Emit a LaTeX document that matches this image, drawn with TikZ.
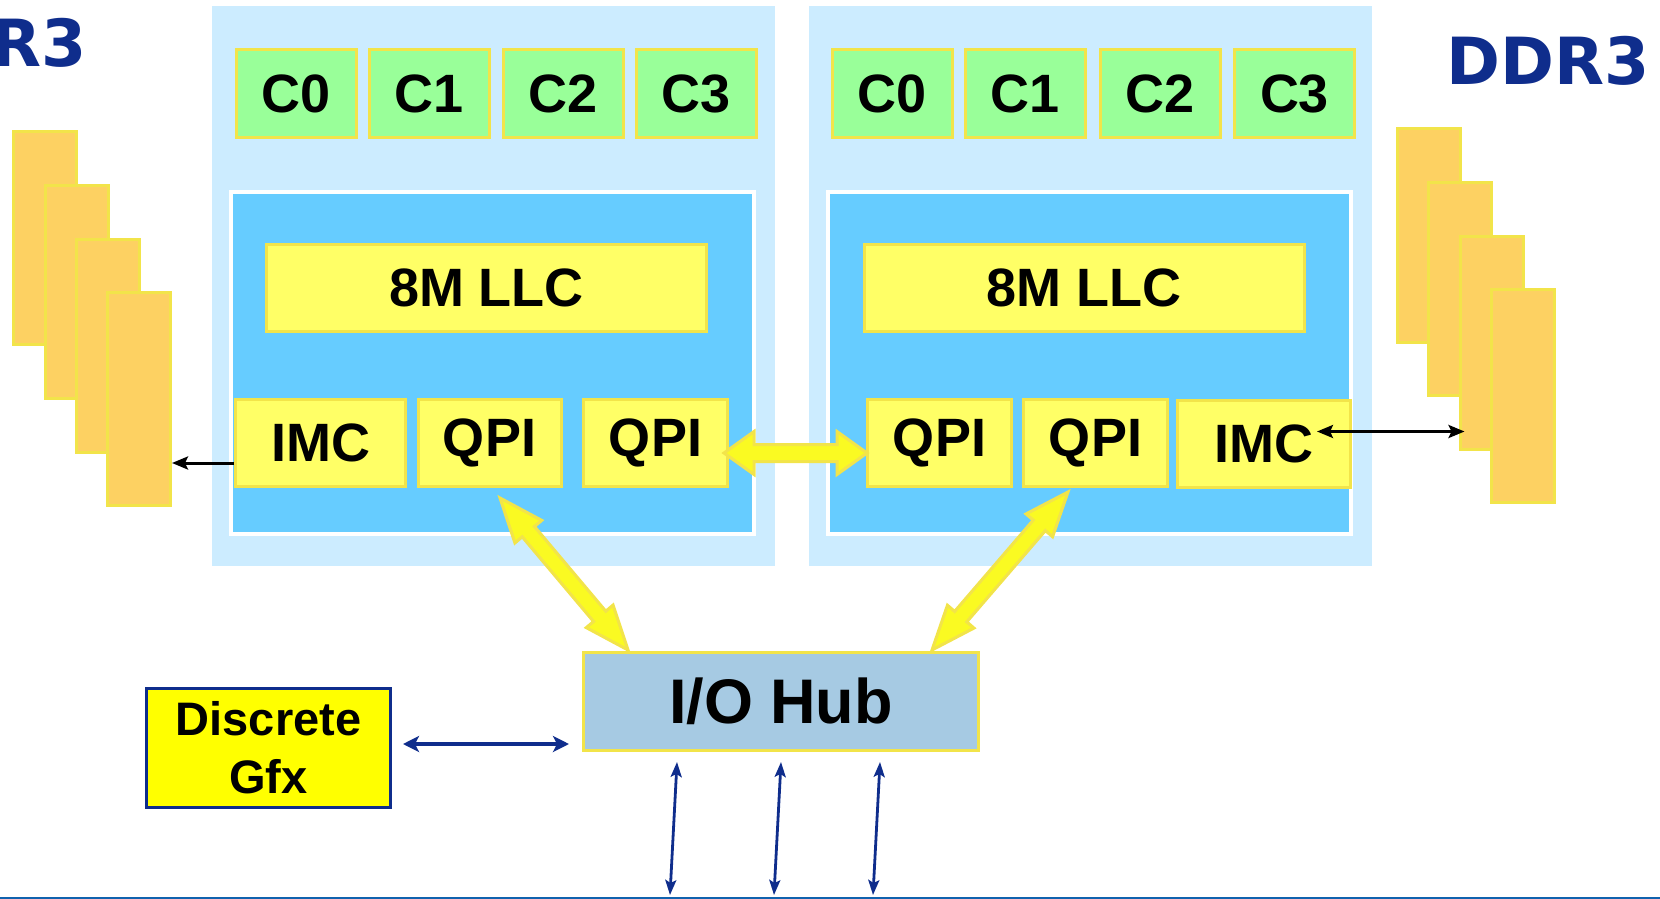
\documentclass[tikz,border=0pt]{standalone}
\usepackage{fontspec}
\setmainfont{Liberation Sans}
\newfontfamily\ddrfont{DejaVu Sans}
\usepackage{xcolor}
\usepackage{tikz}
\usetikzlibrary{calc,arrows.meta}

\definecolor{sockfill}{HTML}{CCECFF}
\definecolor{ringfill}{HTML}{66CCFF}
\definecolor{corefill}{HTML}{99FF99}
\definecolor{cachefill}{HTML}{FFFF66}
\definecolor{boxline}{HTML}{F2E44A}
\definecolor{dimmfill}{HTML}{FDD162}
\definecolor{hubfill}{HTML}{A6CAE3}
\definecolor{gfxfill}{HTML}{FFFF00}
\definecolor{navy}{HTML}{0F2D8C}
\definecolor{fatfill}{HTML}{FAFA22}
\definecolor{busblue}{HTML}{1062AE}

\tikzset{
  sockbox/.style={fill=sockfill, inner sep=0pt, minimum width=281.5pt, minimum height=280pt},
  ringbox/.style={fill=ringfill, draw=white, line width=2pt, minimum width=261.5pt, minimum height=171pt},
  corebox/.style={fill=corefill, draw=boxline, line width=1.5pt, minimum width=60pt, minimum height=44pt,
    font=\bfseries\fontsize{27}{29}\selectfont},
  cachebox/.style={fill=cachefill, draw=boxline, line width=1.5pt, minimum height=43.5pt,
    font=\bfseries\fontsize{27}{29}\selectfont},
  dimmbox/.style={fill=dimmfill, draw=boxline, line width=1.5pt, minimum width=31.5pt, minimum height=106.5pt},
  hubbox/.style={fill=hubfill, draw=boxline, line width=1.5pt, minimum width=197.5pt, minimum height=49pt,
    font=\bfseries\fontsize{31.5}{34}\selectfont},
  gfxbox/.style={fill=gfxfill, draw=navy, line width=1.5pt, inner sep=2pt, minimum width=122pt,
    minimum height=59.5pt, align=center, font=\bfseries\fontsize{23.5}{29}\selectfont},
  ddrtext/.style={text=navy, inner sep=0pt, font=\ddrfont\bfseries\fontsize{32.5}{35}\selectfont},
  fatarrow/.style={fill=fatfill, draw=boxline, line width=1.5pt},
  memarrow/.style={draw=black, line width=1.5pt},
  gfxarrow/.style={draw=navy, line width=2pt,
    {Stealth[length=8pt,width=8pt,inset=2pt]}-{Stealth[length=8pt,width=8pt,inset=2pt]}},
  busarrow/.style={draw=navy, line width=1.4pt,
    {Stealth[length=7.5pt,width=5.5pt,inset=1.5pt]}-{Stealth[length=7.5pt,width=5.5pt,inset=1.5pt]}},
  busline/.style={draw=busblue, line width=1.5pt}
}

% fat double arrow: start, end, half shaft, half head, head length
\newcommand{\fatlink}[5]{%
  \path (#1) coordinate (fa) (#2) coordinate (fb)
    ($(fa)!#5!(fb)$) coordinate (fa1)
    ($(fb)!#5!(fa)$) coordinate (fb1);
  \draw[fatarrow] (fa)
    -- ($(fa1)!#4!90:(fb)$) -- ($(fa1)!#3!90:(fb)$)
    -- ($(fb1)!#3!-90:(fa)$) -- ($(fb1)!#4!-90:(fa)$)
    -- (fb)
    -- ($(fb1)!#4!90:(fa)$) -- ($(fb1)!#3!90:(fa)$)
    -- ($(fa1)!#3!-90:(fb)$) -- ($(fa1)!#4!-90:(fb)$)
    -- cycle;}

\begin{document}
\begin{tikzpicture}[x=0.5pt,y=-0.5pt]
\useasboundingbox (0,0) rectangle (1660,899);
\clip (0,0) rectangle (1660,899);

% sockets
\node[sockbox] (sockL) at (493.5,286) {};
\node[sockbox] (sockR) at (1090.5,286) {};
\node[ringbox] (ringL) at (492.5,363) {};
\node[ringbox] (ringR) at (1089.5,363) {};

% cores
\foreach \i/\x in {0/296.5, 1/429.5, 2/563, 3/696.5}
  \node[corebox] (coreL\i) at (\x,93.5) {C\i};
\foreach \i/\x in {0/892, 1/1025, 2/1160, 3/1294.5}
  \node[corebox] (coreR\i) at (\x,93.5) {C\i};

% cache
\node[cachebox, minimum width=220pt] (llcL) at (486.5,287.5) {8M LLC};
\node[cachebox, minimum width=220pt] (llcR) at (1084,287.5) {8M LLC};

% controller and links
\node[cachebox, minimum width=85pt] (imcL) at (320.5,443) {IMC};
\node[cachebox, minimum width=71.5pt] (qpiLa) at (489.5,443) {QPI};
\node[cachebox, minimum width=72pt] (qpiLb) at (655.5,443) {QPI};
\node[cachebox, minimum width=72pt] (qpiRa) at (939.5,443) {QPI};
\node[cachebox, minimum width=72pt] (qpiRb) at (1095.5,443) {QPI};
\node[cachebox, minimum width=86.5pt] (imcR) at (1264,443.5) {IMC};

% memory
\foreach \i/\x/\y in {1/45/238, 2/76.5/291.5, 3/108/345.5, 4/139/398.5}
  \node[dimmbox] (dimmL\i) at (\x,\y) {};
\foreach \i/\x/\y in {1/1429/235.5, 2/1460/289, 3/1491.5/343, 4/1523/396}
  \node[dimmbox] (dimmR\i) at (\x,\y) {};
\node[ddrtext, anchor=base east] (ddrL) at (87,67) {DDR3};
\node[ddrtext, anchor=base west] (ddrR) at (1446,85) {DDR3};

% hub and graphics
\node[hubbox] (hub) at (781,701.5) {I/O Hub};
\node[gfxbox] (gfx) at (268.5,748) {Discrete\\Gfx};

% QPI links
\fatlink{$(qpiLb.east)+(-5,10)$}{$(qpiRa.west)+(1,10)$}{4.25pt}{10.75pt}{15pt}
\fatlink{$(qpiLa.south)+(10.5,10)$}{$(hub.north west)+(46,-1)$}{4pt}{8.75pt}{22pt}
\fatlink{$(qpiRb.south)+(-27.5,4)$}{$(hub.north east)+(-48,-1)$}{4pt}{8.75pt}{22pt}

% memory links
\coordinate (mL) at ($(imcL.west)+(0,20)$);
\draw[memarrow, -{Stealth[length=8pt,width=6.5pt,inset=1.5pt]}] (mL) -- (mL -| dimmL4.east);
\coordinate (mR) at ($(imcR.east)+(-35,-12)$);
\draw[memarrow, {Stealth[length=8pt,width=6.5pt,inset=1.5pt]}-{Stealth[length=8pt,width=6.5pt,inset=1.5pt]},
  shorten >=-3pt] (mR) -- (mR -| dimmR3.west);

% graphics link
\coordinate (gx) at ($(gfx.east)+(0,-4)$);
\draw[gfxarrow, shorten <=5.5pt, shorten >=6.5pt] (gx) -- (gx -| hub.west);

% bus
\foreach \n/\dx in {a/-104, b/0, c/99} {
  \coordinate (bus\n) at ($(hub.south)+(\dx-7,143)$);
  \draw[busarrow] ($(hub.south)+(\dx,10)$) -- (bus\n);
}
\draw[busline] (0,898) -- (1660,898);

\end{tikzpicture}
\end{document}
